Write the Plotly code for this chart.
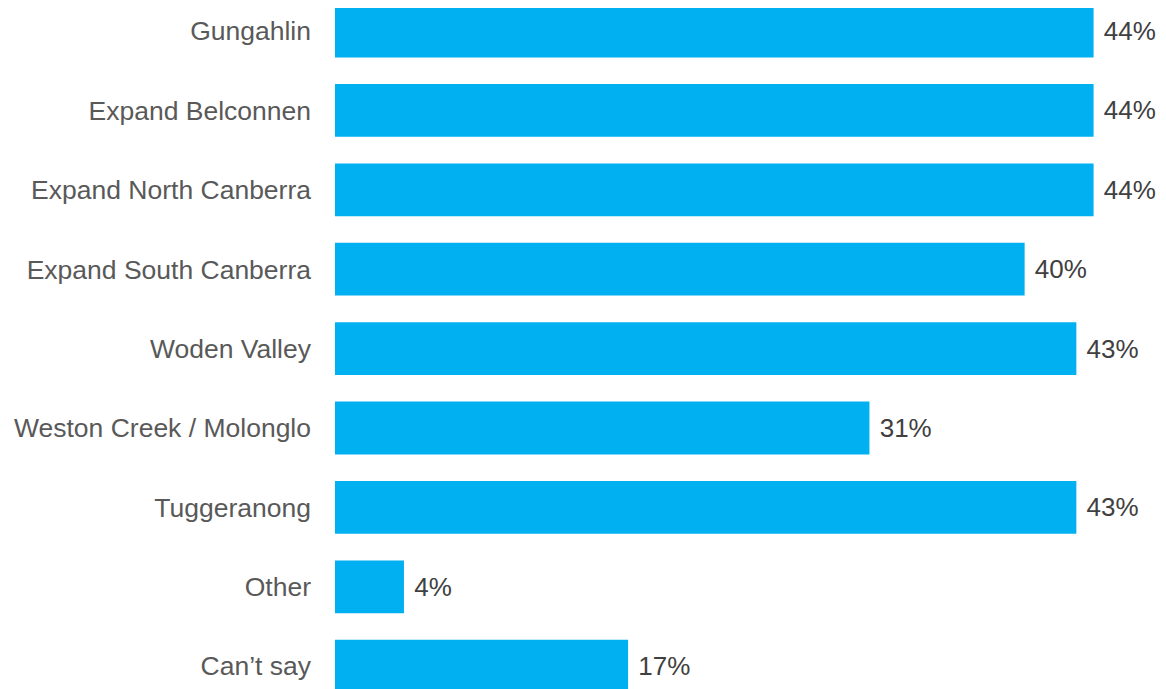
import plotly.graph_objects as go

# Data
categories = ["Gungahlin", "Expand Belconnen", "Expand North Canberra",
              "Expand South Canberra", "Woden Valley", "Weston Creek / Molonglo",
              "Tuggeranong", "Other", "Can\u2019t say"]
values = [44, 44, 44, 40, 43, 31, 43, 4, 17]

# page body adds an 8px offset, so the figure is a bit smaller than the window
fig = go.Figure()
fig.add_trace(go.Bar(
    x=values,
    y=categories,
    orientation="h",
    marker=dict(color="#00B0F0", line=dict(width=0)),
    text=[f"{v}%" for v in values],
    texttemplate=" %{text}",
    textposition="outside",
    constraintext="none",
    cliponaxis=False,
    textfont=dict(family="Liberation Sans, Arial, sans-serif", size=26, color="#404040"),
    hoverinfo="skip",
))

fig.update_layout(
    width=1158, height=681,
    margin=dict(l=327, r=0, t=0, b=0),
    paper_bgcolor="white", plot_bgcolor="white",
    bargap=0.335,
    showlegend=False,
    font=dict(family="Liberation Sans, Arial, sans-serif", size=26.5, color="#595959"),
    xaxis=dict(visible=False, range=[0, 48.2]),
    yaxis=dict(
        categoryorder="array", categoryarray=categories,
        range=[8.287, -0.29],
        showgrid=False, zeroline=False, showline=False, ticks="",
        ticklabelstandoff=23,
        tickfont=dict(size=26.5, color="#595959"),
    ),
)

fig.write_html("out.html")
